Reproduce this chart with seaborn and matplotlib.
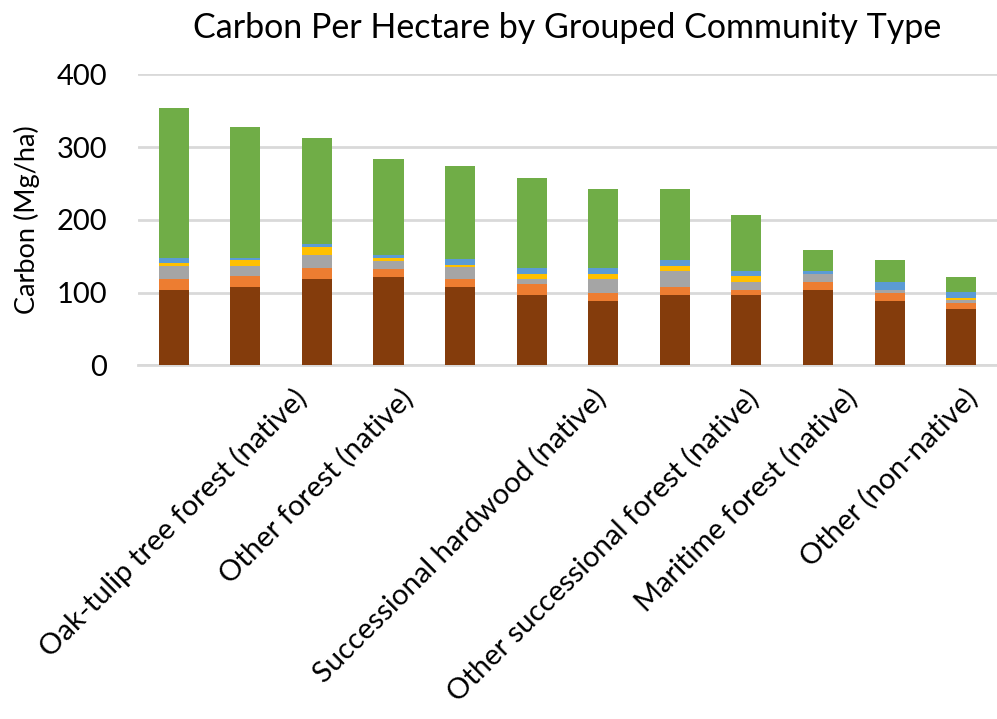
import numpy as np
import pandas as pd
import matplotlib
matplotlib.use("Agg")
import matplotlib.pyplot as plt
import seaborn as sns

sns.set_theme(style="white")
plt.rcParams['font.family'] = ['Lato', 'DejaVu Sans']
plt.rcParams['text.color'] = 'black'
plt.rcParams['xtick.color'] = 'black'
plt.rcParams['ytick.color'] = 'black'
plt.rcParams['axes.labelcolor'] = 'black'

# Community types (only every other name is shown on the axis)
tick_labels = ["Oak-tulip tree forest (native)", "",
               "Other forest (native)", "",
               "Successional hardwood (native)", "",
               "Other successional forest (native)", "",
               "Maritime forest (native)", "",
               "Other (non-native)", ""]
positions = list(range(len(tick_labels)))

# Carbon pools (Mg/ha), stacked bottom -> top
pool_brown = [103.6, 107.7, 118.7, 121.5, 107.7, 96.7, 88.4, 96.7, 96.7, 103.6, 88.4, 77.4]
pool_orange = [15.0, 15.1, 15.1, 11.0, 11.0, 15.1, 11.0, 11.0, 6.9, 11.0, 10.6, 7.9]
pool_gray = [18.3, 14.2, 17.9, 11.0, 16.6, 6.9, 19.3, 22.0, 11.0, 11.0, 4.6, 4.5]
pool_yellow = [4.0, 7.9, 11.0, 4.1, 2.7, 7.3, 7.3, 7.3, 8.2, 0.0, 0.0, 2.8]
pool_blue = [7.0, 3.1, 4.6, 4.1, 8.3, 8.3, 8.3, 8.3, 6.9, 3.7, 11.0, 8.2]
pool_green = [206.0, 179.8, 145.4, 132.1, 127.5, 123.4, 108.3, 97.3, 77.0, 29.3, 30.3, 20.7]

pools = [pool_brown, pool_orange, pool_gray, pool_yellow, pool_blue, pool_green]
colors = ['#843C0C', '#ED7D31', '#A5A5A5', '#FFC000', '#5B9BD5', '#70AD47']

cum = np.cumsum(np.array(pools), axis=0)

fig = plt.figure(figsize=(9.97, 7.19), dpi=100)
ax = fig.add_axes([0.1384, 0.492, 0.8616, 0.4044])

# draw tallest cumulative layer first so shorter ones sit on top
for layer in range(len(pools) - 1, -1, -1):
    df = pd.DataFrame({'pos': positions, 'total': cum[layer]})
    sns.barplot(data=df, x='pos', y='total', color=colors[layer], saturation=1,
                width=0.42, errorbar=None, linewidth=0, edgecolor='none',
                ax=ax, zorder=3)

ax.set_ylim(0, 400)
ax.set_yticks([0, 100, 200, 300, 400])
ax.set_xlim(-0.5, len(positions) - 0.5)
ax.yaxis.grid(True, color='#D9D9D9', linewidth=2.0, zorder=0)
ax.set_axisbelow(True)
for side in ['top', 'right', 'left']:
    ax.spines[side].set_visible(False)
ax.spines['bottom'].set_color('#D9D9D9')
ax.spines['bottom'].set_linewidth(2.0)
ax.tick_params(axis='both', length=0)
ax.tick_params(axis='y', pad=22, labelsize=21)
ax.set_xticks(positions)
ax.set_xticklabels(tick_labels, rotation=45, ha='center', fontsize=21)
ax.tick_params(axis='x', pad=14)
ax.set_xlabel('')
ax.set_ylabel('Carbon (Mg/ha)', fontsize=19.5, labelpad=12)
ax.set_title('Carbon Per Hectare by Grouped Community Type', fontsize=24.5, pad=26)

fig.savefig('out.png', dpi=100)
